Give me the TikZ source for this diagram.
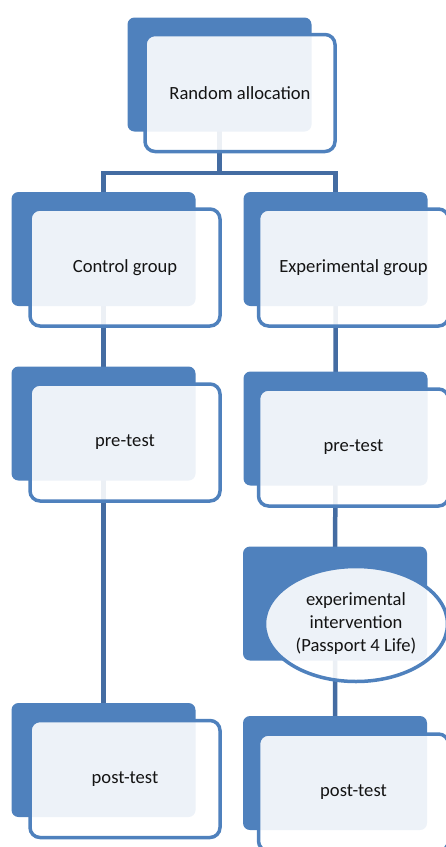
\documentclass[tikz,border=0pt]{standalone}
\usepackage{fontspec}
\setmainfont{Carlito}
\usepackage{xcolor}
\usetikzlibrary{
    shapes.geometric,
    positioning,
    calc,
    backgrounds
}
\definecolor{boxblue}{RGB}{79, 129, 189}
\definecolor{linkblue}{RGB}{68, 108, 162}
\definecolor{textgray}{RGB}{20, 20, 20}

\begin{document}
\begin{tikzpicture}[
        x=1pt, y=-1pt,
        backbox/.style={fill=boxblue, rounded corners=7pt, minimum width=184pt, minimum height=114pt, inner sep=0pt},
        frontbox/.style={draw=boxblue, line width=3.5pt, fill=white, fill opacity=0.9, text opacity=1,
            rounded corners=10pt, minimum width=190pt, minimum height=117pt, align=center,
            text=textgray, font=\fontsize{18.6}{23}\selectfont},
        frontoval/.style={frontbox, ellipse, minimum width=183pt, minimum height=115pt, inner sep=0pt},
        link/.style={draw=linkblue, line width=4.5pt}
    ]
        \useasboundingbox (0,0) rectangle (446,847);

        % Allocation
        \node[backbox] (rand-bg) at (219.5, 74.5) {};
        \node[frontbox] (rand) at ([shift={(20.5,18.5)}]rand-bg) {Random allocation};

        % Groups
        \node[backbox] (ctrl-bg) at (103.5, 249) {};
        \node[frontbox] (ctrl) at ([shift={(21.5,18.5)}]ctrl-bg) {Control group};
        \node[backbox] (exp-bg) at (335.5, 249) {};
        \node[frontbox] (exp) at ([shift={(18,18.5)}]exp-bg) {Experimental group};

        % Pre-tests
        \node[backbox] (pre-ctrl-bg) at (103.5, 423.5) {};
        \node[frontbox] (pre-ctrl) at ([shift={(21.5,19)}]pre-ctrl-bg) {pre-test};
        \node[backbox] (pre-exp-bg) at (335.5, 428.5) {};
        \node[frontbox] (pre-exp) at ([shift={(18,19)}]pre-exp-bg) {pre-test};

        % Intervention
        \node[backbox] (interv-bg) at (335, 603.5) {};
        \node[frontoval] (interv) at ([shift={(21,20.5)}]interv-bg) {experimental\\intervention\\(Passport 4 Life)};

        % Post-tests
        \node[backbox] (post-ctrl-bg) at (103.5, 760) {};
        \node[frontbox] (post-ctrl) at ([shift={(21.5,19)}]post-ctrl-bg) {post-test};
        \node[backbox] (post-exp-bg) at (335, 773) {};
        \node[frontbox] (post-exp) at ([shift={(18.5,19.5)}]post-exp-bg) {post-test};

        % Connectors
        \coordinate (fork) at (219.5, 173);
        \begin{scope}[on background layer]
            \draw[link] (rand-bg.center) -- (fork);
            \draw[link] (ctrl-bg.center) |- (fork) -| (exp-bg.center);
            \draw[link] (ctrl-bg.center) -- (pre-ctrl-bg.center) -- (post-ctrl-bg.center);
            \draw[link] (exp-bg.center) -- (pre-exp-bg.center) -- (interv-bg.center) -- (post-exp-bg.center);
        \end{scope}
    \end{tikzpicture}
\end{document}
